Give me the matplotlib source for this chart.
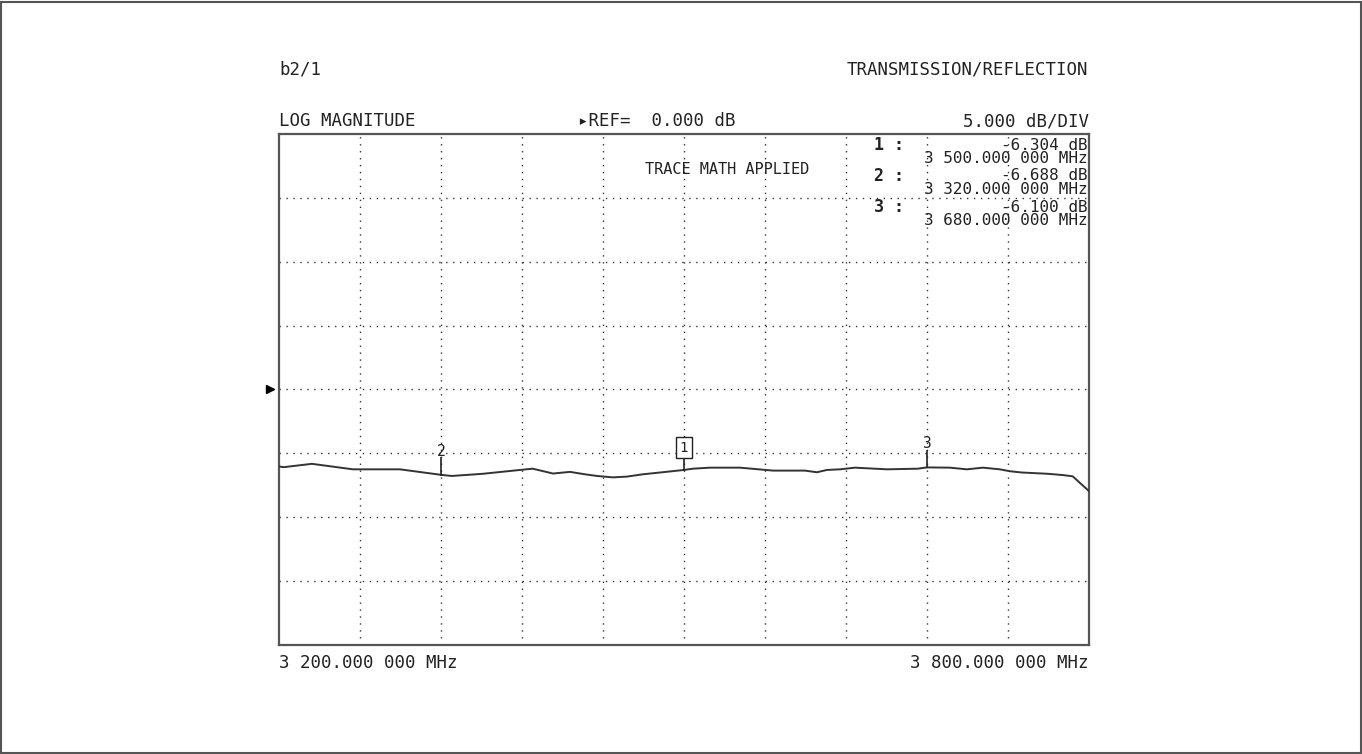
import matplotlib
matplotlib.use('Agg')
import matplotlib.pyplot as plt
from matplotlib.patches import Rectangle

# trace (MHz, dB)
freq = [3200.7, 3203.7, 3224.4, 3254.8, 3289.6, 3320.0, 3328.0, 3351.0, 3378.5, 3388.0,
        3403.0, 3415.6, 3426.7, 3435.6, 3447.4, 3457.8, 3469.6, 3482.2, 3500.0, 3506.7,
        3519.3, 3541.5, 3566.0, 3589.6, 3598.5, 3605.9, 3615.6, 3626.7, 3650.4, 3673.3,
        3680.0, 3697.0, 3709.6, 3721.5, 3734.0, 3741.5, 3750.4, 3769.6, 3780.7, 3788.0, 3800.0]
mag = [-6.04, -6.08, -5.82, -6.25, -6.25, -6.68, -6.77, -6.60, -6.30, -6.20,
       -6.58, -6.45, -6.64, -6.77, -6.88, -6.82, -6.64, -6.50, -6.30, -6.20,
       -6.12, -6.12, -6.35, -6.35, -6.48, -6.30, -6.25, -6.12, -6.25, -6.20,
       -6.10, -6.12, -6.25, -6.12, -6.25, -6.40, -6.50, -6.60, -6.70, -6.80, -7.95]

# markers
mk_names = ['1', '2', '3']
mk_freq = [3500.0, 3320.0, 3680.0]
mk_db = [-6.304, -6.688, -6.100]
mk_freq_txt = ['3 500.000 000 MHz', '3 320.000 000 MHz', '3 680.000 000 MHz']

f_start, f_stop = 3200.0, 3800.0
ref_db = 0.0
db_div = 5.0

mono = ['DejaVu Sans Mono', 'DejaVu Sans']
ink = '#222222'

fig = plt.figure(figsize=(13.62, 7.54), dpi=100)
fig.patches.append(Rectangle((0.001, 0.001), 0.998, 0.997, transform=fig.transFigure,
                             fill=False, edgecolor='#555555', linewidth=1.5))

ax = fig.add_axes([0.2048, 0.1446, 0.5947, 0.6777])
ax.set_xlim(f_start, f_stop)
ax.set_ylim(ref_db - 4 * db_div, ref_db + 4 * db_div)

for i in range(1, 10):
    ax.axvline(f_start + i * (f_stop - f_start) / 10, color='#333333', lw=1.0,
               linestyle=(0, (1, 4)), zorder=1)
for i in range(1, 8):
    ax.axhline(ref_db - 4 * db_div + i * db_div, color='#333333', lw=1.0,
               linestyle=(0, (1, 4)), zorder=1)

ax.plot(freq, mag, color='#333333', lw=1.4, zorder=3)

for s in ax.spines.values():
    s.set_color('#555555')
    s.set_linewidth(1.6)
ax.set_xticks([])
ax.set_yticks([])

# marker flags on the trace
for name, f, d in zip(mk_names, mk_freq, mk_db):
    if name == '1':
        ax.plot([f, f], [d, d + 1.0], color=ink, lw=1.2, zorder=4)
        ax.text(f, d + 1.75, name, ha='center', va='center', fontsize=10, family=mono,
                color=ink, zorder=5,
                bbox=dict(boxstyle='square,pad=0.25', fc='white', ec=ink, lw=1.0))
    else:
        ax.plot([f, f], [d, d + 1.3], color=ink, lw=1.2, zorder=4)
        ax.text(f, d + 1.25, name, ha='center', va='bottom', fontsize=10.5, family=mono,
                color=ink, zorder=5)

# reference pointer on the left
ax.plot([-0.011], [ref_db], marker='>', markersize=6, color='black',
        transform=ax.get_yaxis_transform(), clip_on=False)

ax.text(0.553, 0.93, 'TRACE MATH APPLIED', transform=ax.transAxes, ha='center', va='center',
        fontsize=11, family=mono, color=ink, zorder=5)

# marker readouts
rows = [0.978, 0.918, 0.857]
for name, d, ftxt, yy in zip(mk_names, mk_db, mk_freq_txt, rows):
    ax.text(0.735, yy, name + ' :', transform=ax.transAxes, ha='left', va='center',
            fontsize=12, family=mono, fontweight='bold', color=ink, zorder=5)
    ax.text(0.999, yy, '%.3f dB' % d, transform=ax.transAxes, ha='right', va='center',
            fontsize=11.5, family=mono, color=ink, zorder=5)
    ax.text(0.999, yy - 0.026, ftxt, transform=ax.transAxes, ha='right', va='center',
            fontsize=11.5, family=mono, color=ink, zorder=5)

# header / footer text
fig.text(279 / 1362, 1 - 69 / 754, 'b2/1', ha='left', va='center', fontsize=12.5,
         family=mono, color=ink)
fig.text(1088 / 1362, 1 - 69 / 754, 'TRANSMISSION/REFLECTION', ha='right', va='center',
         fontsize=12.5, family=mono, color=ink)
fig.text(279 / 1362, 1 - 121 / 754, 'LOG MAGNITUDE', ha='left', va='center', fontsize=12.5,
         family=mono, color=ink)
fig.text(578 / 1362, 1 - 121 / 754, '\u25b8REF=  %.3f dB' % ref_db, ha='left', va='center',
         fontsize=12.5, family=mono, color=ink)
fig.text(1089 / 1362, 1 - 121 / 754, '%.3f dB/DIV' % db_div, ha='right', va='center',
         fontsize=12.5, family=mono, color=ink)
fig.text(279 / 1362, 1 - 663 / 754, '3 200.000 000 MHz', ha='left', va='center',
         fontsize=12.5, family=mono, color=ink)
fig.text(1089 / 1362, 1 - 663 / 754, '3 800.000 000 MHz', ha='right', va='center',
         fontsize=12.5, family=mono, color=ink)

fig.savefig('out.png', dpi=100)
